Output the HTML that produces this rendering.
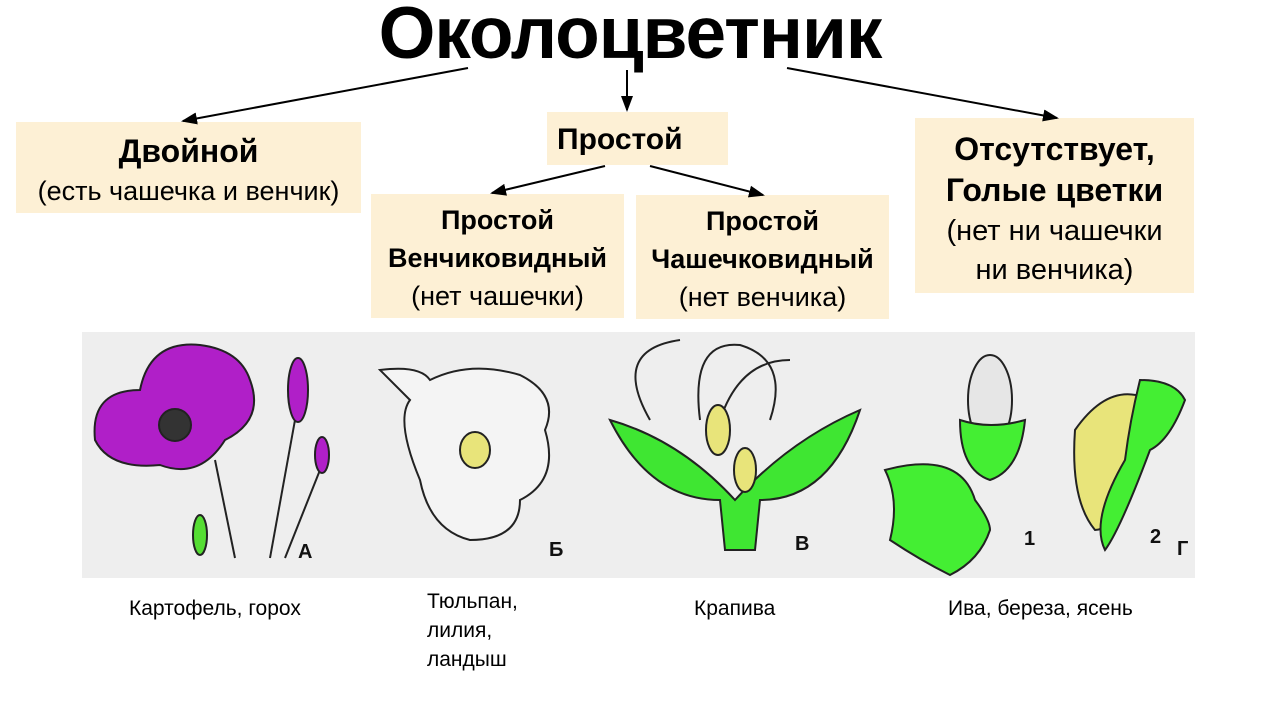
<!DOCTYPE html>
<html><head><meta charset="utf-8"><style>
body{margin:0;width:1280px;height:720px;background:#fff;position:relative;overflow:hidden;font-family:"Liberation Sans","DejaVu Sans",sans-serif;}
.t{position:absolute;text-align:center;color:#000;}
.b{position:absolute;background:#fdf0d5;text-align:center;color:#000;white-space:nowrap;}
.cap{position:absolute;font-size:21px;}
</style></head><body>
<div class="t" style="left:330px;top:-8px;width:600px;font-size:73px;font-weight:bold;letter-spacing:-1px;">Околоцветник</div>
<div class="b" style="left:16px;top:122px;width:345px;height:91px;font-size:27px;line-height:38px;padding-top:10px;box-sizing:border-box;"><b style="font-size:32px">Двойной</b><br>(есть чашечка и венчик)</div>
<div class="b" style="left:547px;top:112px;width:181px;height:53px;font-size:30px;font-weight:bold;line-height:56px;text-align:left;padding-left:10px;box-sizing:border-box;">Простой</div>
<div class="b" style="left:371px;top:194px;width:253px;height:124px;font-size:27px;line-height:38px;padding-top:7px;box-sizing:border-box;"><b>Простой<br>Венчиковидный</b><br>(нет чашечки)</div>
<div class="b" style="left:636px;top:195px;width:253px;height:124px;font-size:27px;line-height:38px;padding-top:7px;box-sizing:border-box;"><b>Простой<br>Чашечковидный</b><br>(нет венчика)</div>
<div class="b" style="left:915px;top:118px;width:279px;height:175px;font-size:29px;line-height:39px;padding-top:12px;box-sizing:border-box;"><b style="font-size:32px">Отсутствует,<br>Голые цветки</b><br>(нет ни чашечки<br>ни венчика)</div>
<svg style="position:absolute;left:0;top:0" width="1280" height="720">
<defs><marker id="a" markerWidth="8" markerHeight="8" refX="7" refY="4" orient="auto"><path d="M0,1 L8,4 L0,7z" fill="#000"/></marker></defs>
<g stroke="#000" stroke-width="2" marker-end="url(#a)">
<line x1="468" y1="68" x2="183" y2="121"/>
<line x1="627" y1="70" x2="627" y2="110"/>
<line x1="787" y1="68" x2="1057" y2="118"/>
<line x1="605" y1="166" x2="492" y2="193"/>
<line x1="650" y1="166" x2="763" y2="195"/>
</g>
<rect x="82" y="332" width="1113" height="246" fill="#eeeeee"/>
<g stroke="#222" stroke-width="2">
<line x1="215" y1="460" x2="235" y2="558"/><line x1="295" y1="420" x2="270" y2="558"/><line x1="320" y1="470" x2="285" y2="558"/>
<path d="M95,440 Q90,390 140,390 Q150,340 200,345 Q240,350 250,380 Q265,420 225,440 Q200,480 160,465 Q110,470 95,440z" fill="#b01fc8"/>
<circle cx="175" cy="425" r="16" fill="#333"/>
<ellipse cx="298" cy="390" rx="10" ry="32" fill="#b01fc8"/>
<ellipse cx="322" cy="455" rx="7" ry="18" fill="#b01fc8"/>
<ellipse cx="200" cy="535" rx="7" ry="20" fill="#55dd33"/>
<path d="M380,370 Q420,365 430,380 Q470,360 520,375 Q560,395 545,430 Q560,480 520,500 Q520,540 470,540 Q430,530 420,480 Q395,420 410,400z" fill="#f4f4f4"/>
<ellipse cx="475" cy="450" rx="15" ry="18" fill="#e8e47a"/>
<path d="M650,420 Q610,350 680,340 M700,420 Q690,340 740,345 Q790,360 770,420 M720,420 Q740,360 790,360" fill="none"/>
<path d="M610,420 Q680,440 735,500 Q790,440 860,410 Q830,500 760,500 L755,550 L725,550 L720,500 Q650,500 610,420z" fill="#3fe632"/>
<ellipse cx="718" cy="430" rx="12" ry="25" fill="#e8e47a"/>
<ellipse cx="745" cy="470" rx="11" ry="22" fill="#e8e47a"/>
<ellipse cx="990" cy="400" rx="22" ry="45" fill="#e6e6e6"/>
<path d="M960,420 Q990,430 1025,420 Q1020,470 990,480 Q960,470 960,420z" fill="#44ee33"/>
<path d="M885,470 Q960,450 975,500 Q990,520 990,530 Q980,560 950,575 Q920,560 890,540 Q900,500 885,470z" fill="#44ee33"/>
<path d="M1075,430 Q1110,380 1150,400 Q1150,440 1130,480 Q1115,530 1095,530 Q1070,500 1075,430z" fill="#e8e47a"/>
<path d="M1140,380 Q1175,380 1185,400 Q1170,440 1150,450 Q1120,530 1105,550 Q1090,520 1125,460 Q1130,420 1140,380z" fill="#44ee33"/>
</g>
<g font-family="Liberation Sans" font-weight="bold" font-size="20" fill="#111">
<text x="298" y="558">А</text><text x="549" y="556">Б</text><text x="795" y="550">В</text><text x="1024" y="545">1</text><text x="1150" y="543">2</text><text x="1177" y="555">Г</text>
</g>
</svg>
<div class="cap" style="left:129px;top:597px;">Картофель, горох</div>
<div class="cap" style="left:427px;top:587px;line-height:29px;">Тюльпан,<br>лилия,<br>ландыш</div>
<div class="cap" style="left:694px;top:597px;">Крапива</div>
<div class="cap" style="left:948px;top:597px;">Ива, береза, ясень</div>
</body></html>
